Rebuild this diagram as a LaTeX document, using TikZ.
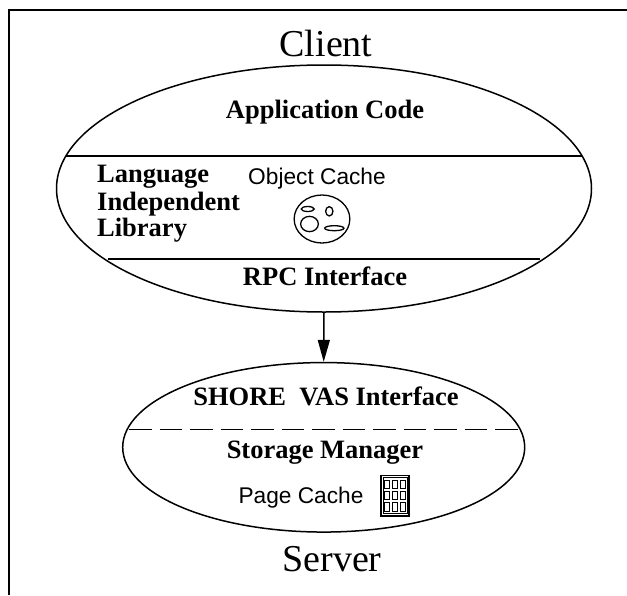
\documentclass[tikz,border=0pt]{standalone}
\usepackage{fontspec}
\setmainfont{Liberation Serif}
\newfontfamily\helv{Liberation Sans}
\usetikzlibrary{arrows.meta,shapes.geometric}
\tikzset{
 frameline/.style={line width=1.7pt,draw=black},
 lw/.style={line width=1.5pt,draw=black},
 rule/.style={line width=1.3pt,draw=black},
 big/.style={inner sep=0pt,anchor=base,font=\fontsize{38}{38}\selectfont},
 bold/.style={inner sep=0pt,anchor=base,font=\fontsize{26.5}{26.5}\selectfont\bfseries},
 sans/.style={inner sep=0pt,anchor=base,font=\helv\fontsize{22.7}{22.7}\selectfont},
 fine/.style={line width=1.3pt,draw=black,ellipse,inner sep=0pt},
}
\begin{document}
\begin{tikzpicture}[x=1pt,y=-1pt]
\useasboundingbox (0,0) rectangle (627,595);
\coordinate (fa) at (9,595); \coordinate (fb) at (9,10); \coordinate (fc) at (627,10);
\draw[frameline] (fa) -- (fb) -- (fc);
\node[big] (client) at (326,56) {Client};
\node[big] (server) at (332,571.5) {Server};
\node[lw,ellipse,minimum width=535pt,minimum height=247pt,inner sep=0pt] (e1) at (324,188.5) {};
\node[lw,ellipse,minimum width=402pt,minimum height=169.5pt,inner sep=0pt] (e2) at (323.7,447.3) {};
\coordinate (a1) at (66,156); \coordinate (a2) at (582,156);
\coordinate (b1) at (108,259); \coordinate (b2) at (540,259);
\draw[rule] (a1) -- (a2);
\draw[rule] (b1) -- (b2);
\coordinate (c1) at (129,429); \coordinate (c2) at (519,429);
\draw[line width=0.9pt,dash pattern=on 22.5pt off 8pt] (c1) -- (c2);
\draw[lw,-{Triangle[length=22pt,width=12pt]}] (e1.south) -- (e2.north);
\node[bold] (app) at (325,118.5) {Application Code};
\node[bold,anchor=base west] (l1) at (97,182.7) {Language};
\node[bold,anchor=base west] (l2) at (97,210) {Independent};
\node[bold,anchor=base west] (l3) at (97,236.5) {Library};
\node[bold] (rpc) at (325,285.5) {RPC Interface};
\node[bold] (vas) at (326,405.5) {SHORE\ \ VAS Interface};
\node[bold] (sm) at (325,458) {Storage Manager};
\node[sans] (oc) at (317,184) {Object Cache};
\node[sans] (pc) at (301,503.5) {Page Cache};
\node[fine,minimum width=55.7pt,minimum height=48pt] (blob) at (322,219) {};
\node[fine,minimum width=13pt,minimum height=5pt] (b1e) at (307.7,209) {};
\node[fine,minimum width=7.3pt,minimum height=9.3pt] (b2e) at (329.3,211.3) {};
\node[fine,minimum width=17.7pt,minimum height=15.3pt] (b3e) at (309.5,224) {};
\node[fine,minimum width=19.3pt,minimum height=5pt] (b4e) at (334.3,228.2) {};
\draw[line width=1.2pt] (381,475.5) rectangle (409,516);
\draw[line width=1pt] (383,477.7) rectangle (407,513.8);
\foreach \x in {384.6,392.8,400.6}{
  \foreach \y in {480.3,491.3,502.8}{
    \draw[line width=1.1pt] (\x,\y) rectangle ++(4.6,8.3);
  }
}
\end{tikzpicture}
\end{document}
